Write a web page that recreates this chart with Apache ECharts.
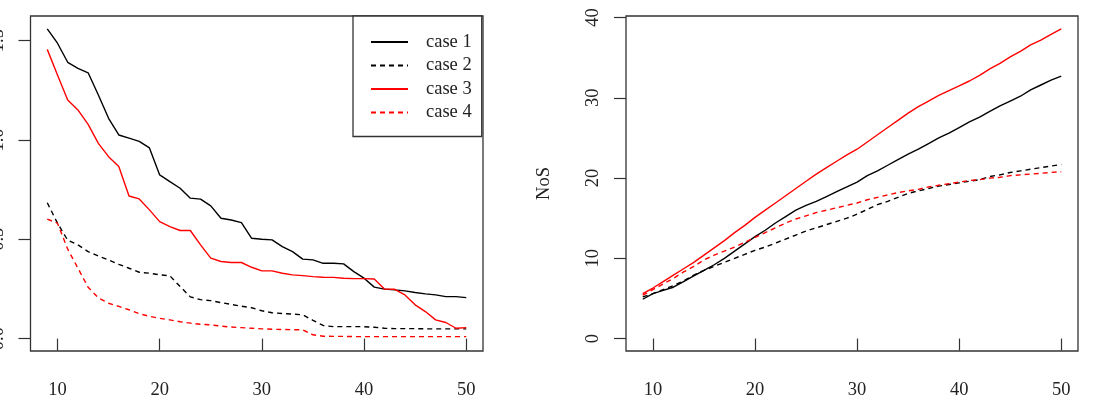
<!DOCTYPE html>
<html>
<head>
<meta charset="utf-8">
<script src="https://cdn.jsdelivr.net/npm/echarts@6/dist/echarts.min.js"></script>
<style>
  html, body { margin: 0; padding: 0; background: #fff; }
  #chart { width: 1093px; height: 407px; }
</style>
</head>
<body>
<div id="chart"></div>
<script>
// x values shared by all curves
const xValues = [9, 10, 11, 12, 13, 14, 15, 16, 17, 18, 19, 20, 21, 22, 23, 24, 25, 26, 27, 28, 29,
  30, 31, 32, 33, 34, 35, 36, 37, 38, 39, 40, 41, 42, 43, 44, 45, 46, 47, 48, 49, 50]

// left panel
const leftCase1 = [1.559, 1.487, 1.391, 1.360, 1.338, 1.226, 1.109, 1.025, 1.009, 0.993, 0.960, 0.824, 0.790, 0.757,
  0.707, 0.702, 0.668, 0.606, 0.597, 0.584, 0.505, 0.500, 0.497, 0.463, 0.438, 0.400, 0.396, 0.379, 0.379, 0.376,
  0.337, 0.304, 0.259, 0.249, 0.245, 0.240, 0.232, 0.225, 0.220, 0.211, 0.211, 0.206]
const leftCase2 = [0.684, 0.581, 0.495, 0.472, 0.438, 0.416, 0.396, 0.374, 0.354, 0.334, 0.329, 0.321, 0.316, 0.262,
  0.210, 0.196, 0.191, 0.181, 0.172, 0.163, 0.155, 0.140, 0.130, 0.126, 0.123, 0.120, 0.092, 0.066, 0.060, 0.060,
  0.060, 0.060, 0.057, 0.052, 0.050, 0.050, 0.050, 0.049, 0.049, 0.049, 0.049, 0.049]
const leftCase3 = [1.456, 1.327, 1.201, 1.151, 1.078, 0.983, 0.916, 0.866, 0.718, 0.703, 0.648, 0.589, 0.564, 0.544,
  0.544, 0.472, 0.405, 0.388, 0.383, 0.383, 0.359, 0.341, 0.341, 0.329, 0.321, 0.317, 0.312, 0.309, 0.308, 0.304,
  0.302, 0.302, 0.300, 0.250, 0.248, 0.220, 0.170, 0.136, 0.094, 0.081, 0.052, 0.055]
const leftCase4 = [0.601, 0.581, 0.450, 0.355, 0.258, 0.205, 0.178, 0.162, 0.145, 0.125, 0.112, 0.102, 0.094, 0.085,
  0.078, 0.072, 0.069, 0.063, 0.058, 0.055, 0.052, 0.049, 0.047, 0.046, 0.045, 0.044, 0.019, 0.012, 0.011, 0.011,
  0.010, 0.010, 0.010, 0.010, 0.010, 0.010, 0.010, 0.010, 0.010, 0.010, 0.010, 0.010]

// right panel (NoS)
const rightCase1 = [4.9, 5.6, 6.0, 6.4, 7.1, 7.8, 8.5, 9.2, 10.0, 10.9, 11.8, 12.7, 13.5, 14.4, 15.2, 16.0, 16.6,
  17.1, 17.7, 18.3, 18.9, 19.5, 20.3, 20.9, 21.6, 22.3, 23.0, 23.6, 24.3, 25.0, 25.6, 26.3, 27.0, 27.6, 28.3, 29.0,
  29.6, 30.2, 31.0, 31.6, 32.2, 32.7]
const rightCase2 = [5.2, 5.6, 6.1, 6.6, 7.2, 7.9, 8.5, 9.0, 9.5, 10.0, 10.5, 11.0, 11.4, 11.9, 12.4, 12.9, 13.4,
  13.8, 14.2, 14.6, 15.0, 15.5, 16.1, 16.7, 17.1, 17.6, 18.1, 18.4, 18.7, 19.0, 19.2, 19.4, 19.6, 19.8, 20.2, 20.4,
  20.7, 20.9, 21.1, 21.3, 21.5, 21.7]
const rightCase3 = [5.6, 6.3, 7.1, 7.9, 8.7, 9.5, 10.4, 11.3, 12.2, 13.2, 14.1, 15.1, 16.0, 16.9, 17.8, 18.7, 19.6,
  20.5, 21.3, 22.1, 22.9, 23.6, 24.5, 25.4, 26.3, 27.2, 28.1, 28.9, 29.6, 30.3, 30.9, 31.5, 32.1, 32.8, 33.6, 34.3,
  35.1, 35.8, 36.6, 37.2, 37.9, 38.6]
const rightCase4 = [5.4, 6.1, 6.8, 7.5, 8.3, 9.0, 9.8, 10.4, 10.9, 11.4, 12.0, 12.6, 13.2, 13.8, 14.4, 14.9, 15.3,
  15.7, 16.0, 16.3, 16.6, 16.9, 17.3, 17.6, 17.9, 18.2, 18.4, 18.6, 18.9, 19.1, 19.3, 19.5, 19.7, 19.8, 20.0, 20.1,
  20.3, 20.4, 20.5, 20.6, 20.7, 20.8]

const caseNames = ['case 1', 'case 2', 'case 3', 'case 4']
const xTicks = [10, 20, 30, 40, 50]
const leftYTicks = [0, 0.5, 1, 1.5]
const leftYLabels = ['0.0', '0.5', '1.0', '1.5']
const rightYTicks = [0, 10, 20, 30, 40]

const font = 'Liberation Serif, Times New Roman, serif'
const axisColor = '#333'

const chart = echarts.init(document.getElementById('chart'), null, { renderer: 'canvas' })

function pairs(ys) {
  return xValues.map((x, i) => [x, ys[i]])
}

function xAxis(gridIndex) {
  return {
    type: 'value',
    gridIndex: gridIndex,
    min: 7.36,
    max: 51.64,
    splitLine: { show: false },
    axisLine: { show: false },
    axisTick: { show: true, length: 12, customValues: xTicks, lineStyle: { color: axisColor, width: 1.2 } },
    axisLabel: { customValues: xTicks, margin: 30, color: '#222', fontSize: 18.5, fontFamily: font },
  }
}

function yAxis(gridIndex, min, max, ticks, fmt) {
  return {
    type: 'value',
    gridIndex: gridIndex,
    min: min,
    max: max,
    splitLine: { show: false },
    axisLine: { show: false },
    axisTick: { show: true, length: 12, customValues: ticks, lineStyle: { color: axisColor, width: 1.2 } },
    axisLabel: {
      customValues: ticks,
      rotate: 90,
      margin: 23,
      color: '#222',
      fontSize: 18.5,
      fontFamily: font,
      formatter: fmt,
    },
  }
}

function lineSeries(name, ys, color, dashed, idx) {
  return {
    name: name,
    type: 'line',
    xAxisIndex: idx,
    yAxisIndex: idx,
    data: pairs(ys),
    symbol: 'none',
    showSymbol: false,
    lineStyle: { color: color, width: 1.4, type: dashed ? [5, 4] : 'solid' },
    itemStyle: { color: color },
    emphasis: { disabled: true },
  }
}

const option = {
  animation: false,
  backgroundColor: '#fff',
  grid: [
    { left: 30.5, top: 16, width: 452.5, height: 335, show: true, borderColor: axisColor, borderWidth: 1.3, outerBoundsMode: 'none', containLabel: false },
    { left: 626, top: 16, width: 452, height: 335, show: true, borderColor: axisColor, borderWidth: 1.3, outerBoundsMode: 'none', containLabel: false },
  ],
  legend: {
    data: caseNames,
    orient: 'vertical',
    left: 353,
    top: 16,
    padding: [16, 10, 14, 17],
    borderColor: axisColor,
    borderWidth: 1.3,
    backgroundColor: '#fff',
    itemWidth: 37,
    itemHeight: 20,
    itemGap: 3.5,
    itemStyle: { opacity: 0 },
    textStyle: { fontSize: 18.5, fontFamily: font, color: '#222', lineHeight: 20, padding: [0, 0, 0, 13] },
  },
  xAxis: [xAxis(0), xAxis(1)],
  yAxis: [
    yAxis(0, -0.0625, 1.624, leftYTicks, (v) => leftYLabels[leftYTicks.indexOf(v)] || v.toFixed(1)),
    Object.assign(yAxis(1, -1.55, 40.2, rightYTicks), {
      name: 'NoS',
      nameLocation: 'middle',
      nameGap: 72,
      nameTextStyle: { fontSize: 18.5, fontFamily: font, color: '#222' },
    }),
  ],
  series: [
    lineSeries('case 1', leftCase1, '#000', false, 0),
    lineSeries('case 2', leftCase2, '#000', true, 0),
    lineSeries('case 3', leftCase3, '#ff0000', false, 0),
    lineSeries('case 4', leftCase4, '#ff0000', true, 0),
    lineSeries('case 1', rightCase1, '#000', false, 1),
    lineSeries('case 2', rightCase2, '#000', true, 1),
    lineSeries('case 3', rightCase3, '#ff0000', false, 1),
    lineSeries('case 4', rightCase4, '#ff0000', true, 1),
  ],
}

chart.setOption(option)
</script>
</body>
</html>
